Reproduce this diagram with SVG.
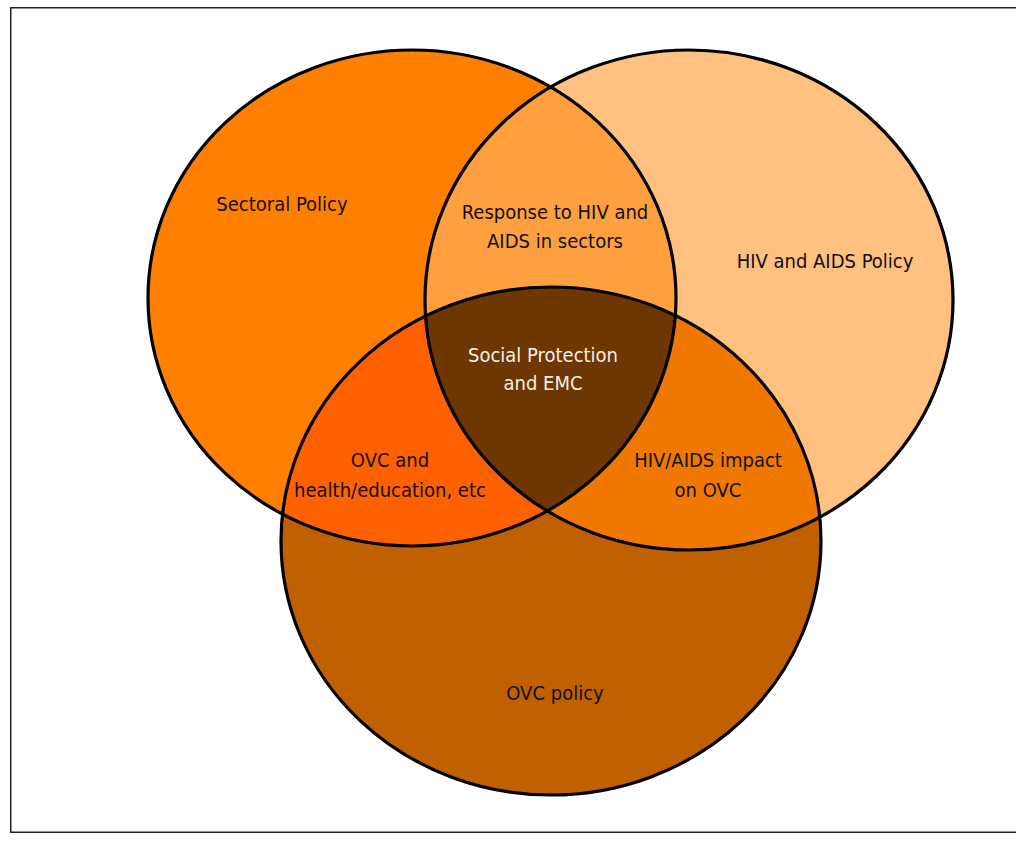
<svg xmlns="http://www.w3.org/2000/svg" width="1016" height="844" viewBox="0 0 1016 844">
<style>
.t{font-family:"Liberation Sans Narrow","DejaVu Sans Condensed","Liberation Sans",sans-serif;font-size:20px;text-anchor:middle;fill:#111}
.w{fill:#f4f0e8}
.o{fill:none;stroke:#000;stroke-width:3.2}
</style>
<defs>
<clipPath id="cA"><ellipse cx="412" cy="298" rx="264" ry="248"/></clipPath>
<clipPath id="cB"><ellipse cx="689" cy="300" rx="264" ry="250"/></clipPath>
<clipPath id="cC"><ellipse cx="551" cy="541" rx="270" ry="254"/></clipPath>
</defs>
<rect x="10.75" y="7.75" width="1020" height="824.5" fill="#fff" stroke="#222" stroke-width="1.5"/>
<g id="sectoral-policy">
<ellipse cx="412" cy="298" rx="264" ry="248" fill="#ff8000"/>
</g>
<g id="hiv-aids-policy">
<ellipse cx="689" cy="300" rx="264" ry="250" fill="#ffc080"/>
</g>
<g id="ovc-policy">
<ellipse cx="551" cy="541" rx="270" ry="254" fill="#c06000"/>
</g>
<g id="response-hiv-sectors">
<ellipse cx="689" cy="300" rx="264" ry="250" fill="#ffa040" clip-path="url(#cA)"/>
</g>
<g id="ovc-health-education">
<ellipse cx="551" cy="541" rx="270" ry="254" fill="#ff6000" clip-path="url(#cA)"/>
</g>
<g id="hiv-impact-ovc">
<ellipse cx="551" cy="541" rx="270" ry="254" fill="#f07800" clip-path="url(#cB)"/>
</g>
<g id="social-protection">
<g clip-path="url(#cA)"><ellipse cx="551" cy="541" rx="270" ry="254" fill="#6e3600" clip-path="url(#cB)"/></g>
</g>
<g id="outlines">
<ellipse class="o" cx="412" cy="298" rx="264" ry="248"/>
<ellipse class="o" cx="689" cy="300" rx="264" ry="250"/>
<ellipse class="o" cx="551" cy="541" rx="270" ry="254"/>
</g>
<g id="labels">
<text class="t" x="282" y="211">Sectoral Policy</text>
<text class="t" x="555" y="219">Response to HIV and</text>
<text class="t" x="555" y="248">AIDS in sectors</text>
<text class="t" x="825" y="268">HIV and AIDS Policy</text>
<text class="t w" x="543" y="362">Social Protection</text>
<text class="t w" x="543" y="390">and EMC</text>
<text class="t" x="390" y="467">OVC and</text>
<text class="t" x="390" y="497">health/education, etc</text>
<text class="t" x="708" y="467">HIV/AIDS impact</text>
<text class="t" x="708" y="497">on OVC</text>
<text class="t" x="555" y="700">OVC policy</text>
</g>
</svg>
